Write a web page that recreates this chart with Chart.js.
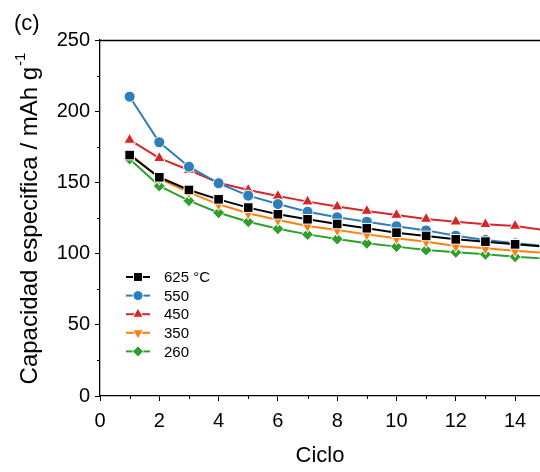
<!DOCTYPE html>
<html>
<head>
<meta charset="utf-8">
<script src="https://cdn.jsdelivr.net/npm/chart.js@4.4.1/dist/chart.umd.min.js"></script>
<style>
html,body{margin:0;padding:0;background:#fff;}
#wrap{width:540px;height:472px;position:relative;}
</style>
</head>
<body>
<div id="wrap"><canvas id="c" width="540" height="472"></canvas></div>
<script>
const cycles = [1,2,3,4,5,6,7,8,9,10,11,12,13,14,15];
const s625 = [169.2,153.6,144.7,138.1,132.3,127.6,124.1,120.8,117.8,114.7,112.4,110.0,108.4,106.5,105.0];
const s550 = [210.2,178.2,161.0,149.4,140.7,134.8,129.4,125.5,122.4,119.2,116.3,112.6,109.6,107.2,105.5];
const s450 = [179.8,167.0,158.7,149.8,144.7,140.4,136.5,133.0,129.9,127.1,124.3,122.4,120.6,119.4,116.5];
const s350 = [170.4,152.6,143.0,134.6,128.3,123.6,119.4,116.6,113.5,110.7,108.4,105.3,103.7,102.0,100.5];
const s260 = [166.4,147.5,137.2,128.7,122.4,117.5,113.5,110.3,107.2,104.9,102.5,100.9,99.5,97.8,96.5];
const seriesLabels = ['625 °C','550','450','350','260'];
const xTicks = [0,2,4,6,8,10,12,14];
const yTicks = [0,50,100,150,200,250];
const xMinor = [1,3,5,7,9,11,13];
const yMinor = [25,75,125,175,225];

const FONT = "'Liberation Sans', Arial, sans-serif";
const styles = [
  {color:'#000000', style:'rect', radius:6.8, rotation:0},
  {color:'#2e7ebc', style:'circle', radius:5.5, rotation:0},
  {color:'#d62728', style:'triangle', radius:6.6, rotation:0},
  {color:'#ff7f0e', style:'triangle', radius:6.6, rotation:180},
  {color:'#2ca02c', style:'rectRot', radius:6, rotation:0}
];
const allSeries = [s625,s550,s450,s350,s260];

const datasets = allSeries.map((s,i)=>({
  label: seriesLabels[i],
  data: cycles.map((c,j)=>({x:c,y:s[j]})),
  borderColor: styles[i].color,
  backgroundColor: styles[i].color,
  borderWidth: 2,
  pointStyle: styles[i].style,
  pointRadius: styles[i].radius,
  pointRotation: styles[i].rotation,
  pointBorderColor: '#ffffff',
  pointBorderWidth: 1,
  pointBackgroundColor: styles[i].color,
  tension: 0
}));

const extras = {
  id:'extras',
  afterDraw(chart){
    const ctx = chart.ctx;
    const ca = chart.chartArea;
    const xs = chart.scales.x, ys = chart.scales.y;
    ctx.save();
    ctx.strokeStyle='#000'; ctx.lineWidth=1.3;
    ctx.beginPath(); ctx.moveTo(ca.left, ca.top+0.5); ctx.lineTo(540, ca.top+0.5); ctx.stroke();
    ctx.lineWidth=1;
    xMinor.forEach(v=>{const p=Math.round(xs.getPixelForValue(v))+0.5;ctx.beginPath();ctx.moveTo(p,ca.bottom);ctx.lineTo(p,ca.bottom+3);ctx.stroke();});
    yMinor.forEach(v=>{const p=Math.round(ys.getPixelForValue(v))+0.5;ctx.beginPath();ctx.moveTo(ca.left,p);ctx.lineTo(ca.left-3,p);ctx.stroke();});
    ctx.fillStyle='#000'; ctx.font='22px '+FONT; ctx.textBaseline='middle'; ctx.textAlign='left';
    ctx.fillText('(c)', 14, 24);
    ctx.translate(30, 219); ctx.rotate(-Math.PI/2);
    const main='Capacidad especifica / mAh g';
    ctx.font='24px '+FONT;
    const w=ctx.measureText(main).width;
    ctx.font='15px '+FONT;
    const ws=ctx.measureText('-1').width;
    const start=-(w+ws)/2;
    ctx.font='24px '+FONT; ctx.textAlign='left';
    ctx.fillText(main, start, 0);
    ctx.font='15px '+FONT;
    ctx.fillText('-1', start+w+1, -9);
    ctx.restore();
    ctx.save();
    ctx.font='15px '+FONT; ctx.textBaseline='middle'; ctx.textAlign='left';
    chart.data.datasets.forEach((d,i)=>{
      const y=277+i*18.6;
      ctx.strokeStyle=d.borderColor; ctx.lineWidth=2;
      ctx.beginPath(); ctx.moveTo(126,y); ctx.lineTo(150,y); ctx.stroke();
      ctx.fillStyle=d.pointBackgroundColor; ctx.strokeStyle='#fff'; ctx.lineWidth=1;
      Chart.helpers.drawPoint(ctx,{pointStyle:d.pointStyle,radius:d.pointRadius-0.5,rotation:d.pointRotation,borderWidth:1},138,y);
      ctx.fillStyle='#000';
      ctx.fillText(d.label,164,y+1);
    });
    ctx.restore();
  }
};

new Chart(document.getElementById('c'), {
  type:'line',
  data:{datasets},
  options:{
    responsive:false,
    animation:false,
    events:[],
    layout:{autoPadding:false,padding:{left:0,top:40,right:0,bottom:0}},
    plugins:{legend:{display:false},tooltip:{enabled:false}},
    scales:{
      x:{
        type:'linear', min:0, max:14.84,
        afterBuildTicks(s){ s.ticks = xTicks.map(v=>({value:v})); },
        afterFit(s){ s.height = 76; s.paddingLeft = 0; s.paddingRight = 0; },
        ticks:{color:'#000',font:{family:FONT,size:20},padding:8,maxRotation:0,autoSkip:false},
        grid:{drawOnChartArea:false,drawTicks:true,tickLength:5,color:'#000',lineWidth:1},
        border:{display:true,color:'#000',width:1.3},
        title:{display:true,text:'Ciclo',color:'#000',font:{family:FONT,size:22},padding:{top:0,bottom:3}}
      },
      y:{
        type:'linear', min:0, max:250,
        afterBuildTicks(s){ s.ticks = yTicks.map(v=>({value:v})); },
        afterFit(s){ s.width = 100; s.paddingTop = 0; s.paddingBottom = 0; },
        ticks:{color:'#000',font:{family:FONT,size:20},padding:5},
        grid:{drawOnChartArea:false,drawTicks:true,tickLength:5,color:'#000',lineWidth:1},
        border:{display:true,color:'#000',width:1.3}
      }
    }
  },
  plugins:[extras]
});
</script>
</body>
</html>
